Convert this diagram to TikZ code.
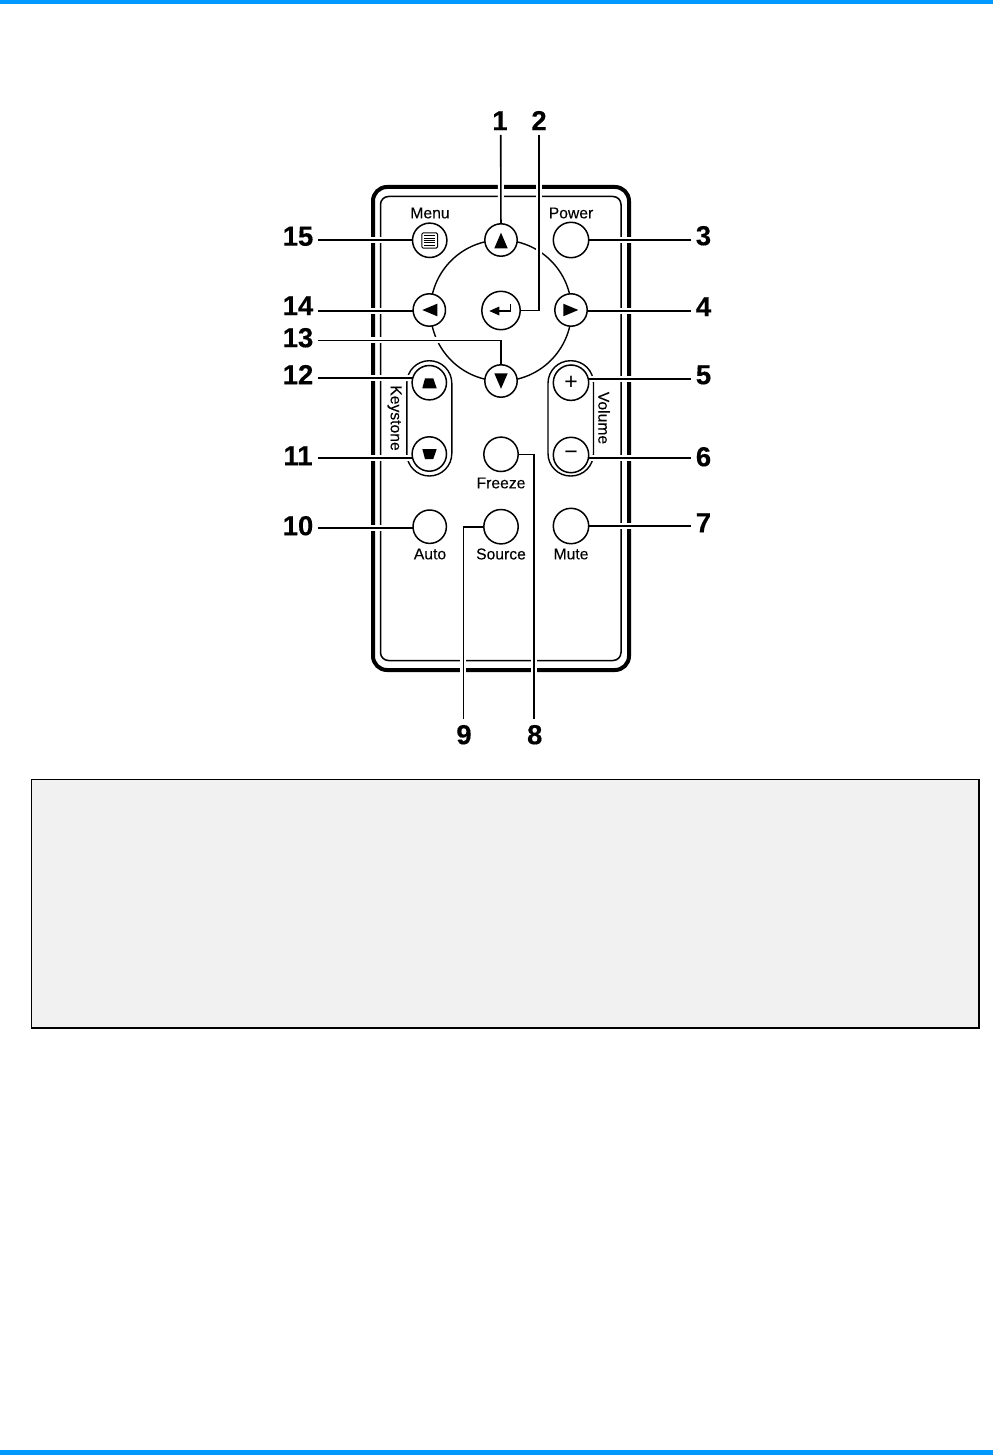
\documentclass[tikz,border=0pt]{standalone}
\usepackage{fontspec}
\setmainfont{Liberation Sans}
\pgfdeclarelayer{body}
\pgfdeclarelayer{leaders}
\pgfsetlayers{body,leaders,main}
\definecolor{barblue}{HTML}{0099FF}
\definecolor{panelgrey}{HTML}{F1F1F1}
\tikzset{
  rbtn/.style={circle,draw=black,fill=white,line width=1.5pt,inner sep=0pt,outer sep=0pt,minimum size=#1},
  num/.style={anchor=base,inner sep=0pt,yshift=0.8pt,font=\fontsize{27.5}{30}\selectfont\bfseries\addfontfeature{FakeBold=0.35}},
  lab/.style={inner sep=0pt,font=\fontsize{15.7}{17}\selectfont\addfontfeature{FakeBold=0.12}},
  leader/.style={preaction={draw=white,line width=6pt},draw=black,line width=1.6pt},
  glyph/.style={fill=black,draw=none},
  thin outline/.style={draw=black,line width=1.4pt,fill=none}
}
\begin{document}
\begin{tikzpicture}[x=1pt,y=-1pt]
\useasboundingbox (0,0) rectangle (993,1455);
% page bars
\fill[barblue] (0,0) rectangle (993,4.5);
\fill[barblue] (0,1449.7) rectangle (993,1455);
% panel
\fill[black] (31,779) rectangle (980,1029);
\fill[panelgrey] (32.3,780.3) rectangle (977.7,1026.6);
% buttons
\node[rbtn=34.4pt] (menu) at (429.7,240.3) {};
\node[rbtn=32.4pt] (up) at (501,240) {};
\node[rbtn=35.4pt] (power) at (571,240) {};
\node[rbtn=32.4pt] (left) at (429.3,310) {};
\node[rbtn=38.4pt] (enter) at (501,310.5) {};
\node[rbtn=32.4pt] (right) at (571,310) {};
\node[rbtn=32.4pt] (down) at (501,381) {};
\node[rbtn=34.4pt] (kup) at (429.3,382.7) {};
\node[rbtn=34.4pt] (kdown) at (429.3,454) {};
\node[rbtn=35.4pt,font=\fontsize{23}{23}\selectfont] (vup) at (571,382.7) {+};
\node[rbtn=35.4pt,font=\fontsize{23}{23}\selectfont] (vdown) at (571,455) {−};
\node[rbtn=34.4pt] (freeze) at (501,454.3) {};
\node[rbtn=33.4pt] (auto) at (429.7,526.7) {};
\node[rbtn=34.4pt] (source) at (501,526.7) {};
\node[rbtn=35.4pt] (mute) at (571,526) {};
% labels
\node[lab] (tmenu) at (430,213) {Menu};
\node[lab] (tpower) at (571,213) {Power};
\node[lab] (tfreeze) at (501,483) {Freeze};
\node[lab] (tauto) at (430,554) {Auto};
\node[lab] (tsource) at (501,554) {Source};
\node[lab] (tmute) at (571,554) {Mute};
\node[lab,rotate=-90] (tkey) at (394.5,418) {Keystone};
\node[lab,rotate=-90] (tvol) at (604,418) {Volume};
% glyphs
\fill[glyph] (501,232.7) -- (507.7,248.3) -- (494.3,248.3) -- cycle;
\fill[glyph] (501,388.8) -- (507.7,373.3) -- (494.3,373.3) -- cycle;
\fill[glyph] (422.3,310) -- (437.3,303.7) -- (437.3,316.3) -- cycle;
\fill[glyph] (578.3,310) -- (563.3,303.7) -- (563.3,316.3) -- cycle;
\fill[glyph] (489.3,311) -- (499.3,306.5) -- (499.3,315.5) -- cycle;
\draw[black,line width=1.3pt] (498,311) -- (510.7,311) -- (510.7,304);
\draw[black,line width=1pt,rounded corners=1.2pt] (421.9,232.9) rectangle (437.5,248.1);
\foreach \yy in {236,238.3,240.6,242.9,245.2} \draw[black,line width=1pt] (424.2,\yy) -- (435.2,\yy);
\fill[glyph] (425,378.3) -- (433.3,378.3) -- (436.7,388.3) -- (422.3,388.3) -- cycle;
\fill[glyph] (422.3,449) -- (436.7,449) -- (433.3,459) -- (425,459) -- cycle;
% numbers
\node[num] (n1) at (500,131) {1};
\node[num] (n2) at (539,131) {2};
\node[num] (n3) at (703.5,246) {3};
\node[num] (n4) at (703.5,317) {4};
\node[num] (n5) at (703.5,385) {5};
\node[num] (n6) at (703.5,467) {6};
\node[num] (n7) at (703.5,533) {7};
\node[num] (n8) at (534.7,745) {8};
\node[num] (n9) at (464,745) {9};
\node[num] (n10) at (298,536) {10};
\node[num] (n11) at (298,466) {11};
\node[num] (n12) at (298,385) {12};
\node[num] (n13) at (298,348) {13};
\node[num] (n14) at (298,316) {14};
\node[num] (n15) at (298,246.5) {15};
% leader free ends
\coordinate (e1) at (500.7,135);
\coordinate (e2) at (539,135);
\coordinate (e3) at (691,240);
\coordinate (e4) at (691,310.7);
\coordinate (e5) at (691,379);
\coordinate (e6) at (691,457.7);
\coordinate (e7) at (691,525.7);
\coordinate (e8) at (534,719);
\coordinate (e9) at (463.3,719);
\coordinate (e10) at (318,527.7);
\coordinate (e11) at (318,458);
\coordinate (e12) at (318,378);
\coordinate (e13) at (318,340.3);
\coordinate (e14) at (318,310.7);
\coordinate (e15) at (318,240.3);
\begin{pgfonlayer}{body}
  \draw[black,line width=4pt,rounded corners=14pt] (373,187) rectangle (629,670);
  \draw[black,line width=1.5pt,rounded corners=8pt] (380.5,196.5) rectangle (621,660.5);
  \draw[thin outline] (501,310.5) circle[radius=70.5pt];
  \draw[thin outline,rounded corners=22.5pt] (406.8,360.7) rectangle (451.8,476);
  \draw[thin outline,rounded corners=22.5pt] (548,360.7) rectangle (593.5,476);
\end{pgfonlayer}
\begin{pgfonlayer}{leaders}
  \draw[leader] (e1) -- (up);
  \draw[leader] (e2) |- (enter);
  \draw[leader] (e3) -- (e3 -| power);
  \draw[leader] (e4) -- (e4 -| right);
  \draw[leader] (e5) -- (e5 -| vup);
  \draw[leader] (e6) -- (e6 -| vdown);
  \draw[leader] (e7) -- (e7 -| mute);
  \draw[leader] (e8) |- (freeze);
  \draw[leader] (e9) |- (source);
  \draw[leader] (e10) -- (e10 -| auto);
  \draw[leader] (e11) -- (e11 -| kdown);
  \draw[leader] (e12) -- (e12 -| kup);
  \draw[leader] (e13) -| (down);
  \draw[leader] (e14) -- (e14 -| left);
  \draw[leader] (e15) -- (e15 -| menu);
\end{pgfonlayer}
\end{tikzpicture}
\end{document}
